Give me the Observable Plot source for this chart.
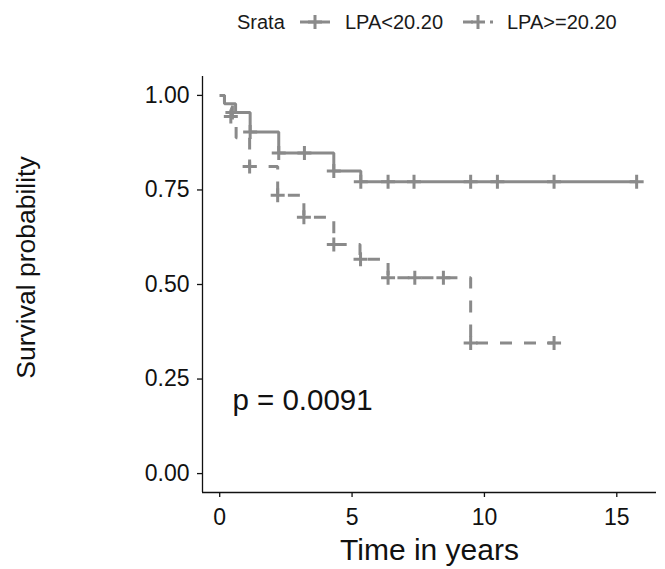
<!DOCTYPE html>
<html><head><meta charset="utf-8">
<script src="https://cdn.jsdelivr.net/npm/d3@7"></script>
<script src="https://cdn.jsdelivr.net/npm/@observablehq/plot@0.6"></script>
<style>
body{margin:0;background:#fff;font-family:"Liberation Sans",Arial,sans-serif;}
#wrap{position:relative;width:665px;height:569px;overflow:hidden;}
#legend{position:absolute;left:0;top:0;width:665px;height:45px;font-size:20px;line-height:20px;color:#1a1a1a;}
#legend span{position:absolute;top:12px;white-space:nowrap;}
#legend svg{position:absolute;top:12px;}
#chart{position:absolute;left:0;top:45px;}
</style></head><body>
<div id="wrap"><div id="legend"></div><div id="chart"></div></div>
<script>
// ---- data ----
const legendTitle = "Srata";
const strataNames = ["LPA<20.20", "LPA>=20.20"];

// LPA<20.20 (solid) step curve
const lowTimes = [0, 0.18, 0.6, 1.15, 2.23, 4.31, 5.33, 15.75];
const lowSurv  = [1, 0.978, 0.955, 0.903, 0.848, 0.800, 0.772, 0.772];
const lowCensorTimes = [0.48, 1.15, 2.23, 3.2, 4.31, 5.33, 6.36, 7.34, 9.48, 10.49, 12.63, 15.75];
const lowCensorSurv  = [0.955, 0.903, 0.848, 0.848, 0.800, 0.772, 0.772, 0.772, 0.772, 0.772, 0.772, 0.772];

// LPA>=20.20 (dashed) step curve
const highTimes = [0, 0.18, 0.45, 0.62, 1.13, 2.19, 3.18, 4.31, 5.3, 6.36, 9.48, 12.63];
const highSurv  = [1, 0.978, 0.944, 0.888, 0.812, 0.736, 0.678, 0.606, 0.567, 0.518, 0.345, 0.345];
const highCensorTimes = [0.42, 1.13, 2.19, 3.18, 4.31, 5.32, 6.36, 7.37, 8.45, 9.48, 12.63];
const highCensorSurv  = [0.944, 0.812, 0.736, 0.678, 0.606, 0.567, 0.518, 0.518, 0.518, 0.345, 0.345];

const xTicks = [0, 5, 10, 15];
const yTicks = [0, 0.25, 0.5, 0.75, 1];
const xDomain = [-0.65, 16.5];
const yDomain = [-0.05, 1.05];
const xTitle = "Time in years";
const yTitle = "Survival probability";
const pvalText = "p = 0.0091";
const pvalX = [0.48];
const pvalY = [0.2];

// ---- build ----
const GREY = "#8a8a8a";
const INK = "#111";
const toRows = (t, s) => t.map((d, i) => ({time: d, surv: s[i]}));
const lowLine = toRows(lowTimes, lowSurv);
const highLine = toRows(highTimes, highSurv);
const lowCens = toRows(lowCensorTimes, lowCensorSurv);
const highCens = toRows(highCensorTimes, highCensorSurv);

const plusSymbol = {
  draw(ctx, size) {
    const r = Math.sqrt(size / Math.PI);
    ctx.moveTo(-r, 0); ctx.lineTo(r, 0);
    ctx.moveTo(0, -r); ctx.lineTo(0, r);
  }
};

const chart = Plot.plot({
  width: 665,
  height: 524,
  marginTop: 31,
  marginBottom: 77,
  marginLeft: 202,
  marginRight: 9,
  style: {fontFamily: '"Liberation Sans", Arial, sans-serif', color: INK, background: "#fff"},
  x: {domain: xDomain},
  y: {domain: yDomain},
  marks: [
    Plot.ruleX([xDomain[0]], {stroke: INK, strokeWidth: 1.3}),
    Plot.ruleY([yDomain[0]], {stroke: INK, strokeWidth: 1.3}),
    Plot.axisX({ticks: xTicks, tickSize: 5, tickPadding: 11, fontSize: 23, label: null, stroke: INK, strokeWidth: 1.3, tickFormat: d3.format("d")}),
    Plot.axisY({ticks: yTicks, tickSize: 5, tickPadding: 8, fontSize: 23, label: null, stroke: INK, strokeWidth: 1.3, tickFormat: d3.format(".2f")}),
    Plot.line(lowLine, {x: "time", y: "surv", curve: "step-after", stroke: GREY, strokeWidth: 3, strokeLinecap: "butt", strokeLinejoin: "miter"}),
    Plot.line(highLine, {x: "time", y: "surv", curve: "step-after", stroke: GREY, strokeWidth: 3, strokeDasharray: "12,12", strokeLinecap: "butt", strokeLinejoin: "miter"}),
    Plot.dot(lowCens, {x: "time", y: "surv", symbol: plusSymbol, r: 7, stroke: GREY, strokeWidth: 3, fill: "none"}),
    Plot.dot(highCens, {x: "time", y: "surv", symbol: plusSymbol, r: 7, stroke: GREY, strokeWidth: 3, fill: "none"}),
    Plot.text([pvalText], {x: pvalX, y: pvalY, text: d => d, textAnchor: "start", fontSize: 29.5, fill: INK, dy: 3}),
    Plot.text([xTitle], {frameAnchor: "bottom", text: d => d, textAnchor: "middle", lineAnchor: "top", dy: 46, fontSize: 30, fill: INK}),
    Plot.text([yTitle], {frameAnchor: "left", text: d => d, textAnchor: "middle", rotate: -90, dx: -176, dy: -17, fontSize: 26.5, fill: INK})
  ]
});
document.getElementById("chart").appendChild(chart);

// ---- legend (HTML) ----
const legend = document.getElementById("legend");
function addSpan(text, left) {
  const s = document.createElement("span");
  s.textContent = text;
  s.style.left = left + "px";
  legend.appendChild(s);
}
function addKey(left, dashed) {
  const ns = "http://www.w3.org/2000/svg";
  const svg = document.createElementNS(ns, "svg");
  svg.setAttribute("width", 30); svg.setAttribute("height", 20);
  svg.style.left = left + "px";
  const ln = document.createElementNS(ns, "line");
  ln.setAttribute("x1", 0); ln.setAttribute("x2", 30);
  ln.setAttribute("y1", 10); ln.setAttribute("y2", 10);
  ln.setAttribute("stroke", GREY); ln.setAttribute("stroke-width", 3);
  if (dashed) ln.setAttribute("stroke-dasharray", "10,17");
  svg.appendChild(ln);
  const p = document.createElementNS(ns, "path");
  p.setAttribute("d", "M8,10H22M15,3V17");
  p.setAttribute("stroke", GREY); p.setAttribute("stroke-width", 3); p.setAttribute("fill", "none");
  svg.appendChild(p);
  legend.appendChild(svg);
}
addSpan(legendTitle, 237);
addKey(300, false);
addSpan(strataNames[0], 345);
addKey(463, true);
addSpan(strataNames[1], 507);
</script>
</body></html>
